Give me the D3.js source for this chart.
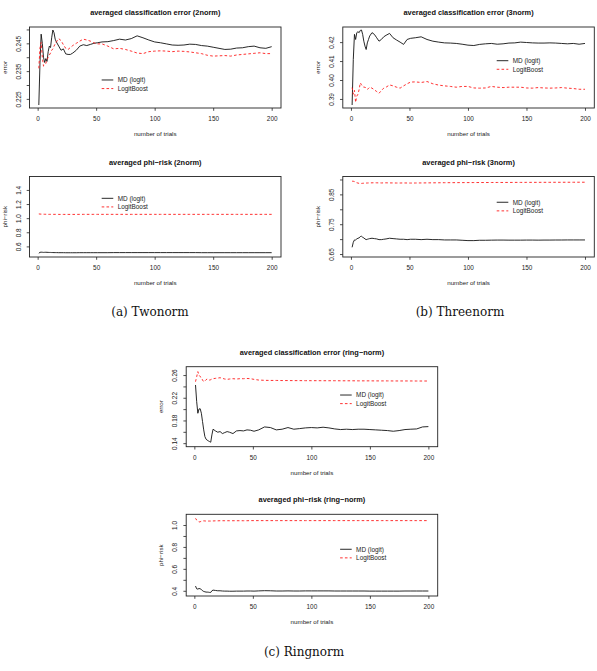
<!DOCTYPE html>
<html>
<head>
<meta charset="utf-8">
<script src="https://cdn.jsdelivr.net/npm/d3@7"></script>
<style>
  body { margin: 0; background: #fff; }
  svg { display: block; font-family: "Liberation Sans", Arial, sans-serif; }
  .chart-title { font-size: 7.4px; font-weight: bold; fill: #111; text-anchor: middle; }
  .axis-label { font-size: 6.2px; fill: #222; text-anchor: middle; }
  .axis text { font-size: 6.4px; fill: #222; }
  .axis line { stroke: #222; stroke-width: 0.8; }
  .plot-box { fill: none; stroke: #222; stroke-width: 0.9; }
  .legend text { font-size: 6.4px; fill: #222; }
  .line-md { fill: none; stroke: #111; stroke-width: 0.9; }
  .line-lb { fill: none; stroke: #ff1a1a; stroke-width: 0.9; stroke-dasharray: 2.6,2.2; }
  .caption { font-family: "DejaVu Serif", serif; font-size: 12px; fill: #111; text-anchor: middle; }
</style>
</head>
<body>
<svg id="figure"></svg>
<script>

const trials = [1, 2, 3, 4, 5, 6, 7, 8, 9, 10, 11, 12, 13, 14, 15, 16, 18, 20, 22, 24,
  26, 28, 30, 33, 36, 39, 42, 45, 48, 51, 55, 60, 65, 70, 75, 80, 85, 90, 95, 100,
  105, 110, 115, 120, 125, 130, 135, 140, 145, 150, 155, 160, 165, 170, 175, 180, 185, 190, 195, 200];

const xTicks = [0, 50, 100, 150, 200];
const seriesNames = ['MD (logit)', 'LogitBoost'];

// twonorm
const twoErrMD = [0.2228, 0.2380, 0.2483, 0.2450, 0.2400, 0.2381, 0.2395, 0.2385, 0.2420, 0.2440,
  0.2435, 0.2470, 0.2498, 0.2488, 0.2465, 0.2455, 0.2440, 0.2425, 0.2430, 0.2412,
  0.2410, 0.2410, 0.2415, 0.2425, 0.2440, 0.2445, 0.2442, 0.2446, 0.2450, 0.2452,
  0.2455, 0.2456, 0.2460, 0.2465, 0.2462, 0.2467, 0.2477, 0.2470, 0.2462, 0.2455,
  0.2452, 0.2448, 0.2444, 0.2443, 0.2444, 0.2447, 0.2446, 0.2442, 0.2440, 0.2436,
  0.2432, 0.2428, 0.2429, 0.2433, 0.2434, 0.2438, 0.2440, 0.2434, 0.2432, 0.2438];
const twoErrLB = [0.2360, 0.2434, 0.2453, 0.2400, 0.2368, 0.2372, 0.2378, 0.2390, 0.2400, 0.2408,
  0.2415, 0.2425, 0.2430, 0.2440, 0.2448, 0.2455, 0.2467, 0.2460, 0.2445, 0.2432,
  0.2428, 0.2435, 0.2442, 0.2450, 0.2458, 0.2465, 0.2462, 0.2458, 0.2452, 0.2448,
  0.2448, 0.2440, 0.2430, 0.2432, 0.2428, 0.2422, 0.2415, 0.2413, 0.2420, 0.2422,
  0.2423, 0.2422, 0.2420, 0.2422, 0.2421, 0.2419, 0.2416, 0.2413, 0.2407, 0.2404,
  0.2405, 0.2406, 0.2404, 0.2408, 0.2410, 0.2412, 0.2414, 0.2416, 0.2413, 0.2413];
const twoPhiMD = [0.503, 0.516, 0.518, 0.517, 0.515, 0.516, 0.517, 0.516, 0.515, 0.514,
  0.514, 0.513, 0.513, 0.512, 0.512, 0.512, 0.511, 0.511, 0.511, 0.510,
  0.510, 0.510, 0.510, 0.510, 0.511, 0.511, 0.511, 0.511, 0.511, 0.511,
  0.511, 0.511, 0.512, 0.512, 0.512, 0.512, 0.512, 0.512, 0.512, 0.512,
  0.512, 0.512, 0.512, 0.512, 0.512, 0.512, 0.512, 0.511, 0.511, 0.511,
  0.511, 0.511, 0.511, 0.511, 0.511, 0.511, 0.511, 0.511, 0.511, 0.511];
const twoPhiLB = [1.060, 1.058, 1.057, 1.056, 1.056, 1.055, 1.055, 1.055, 1.054, 1.054,
  1.054, 1.054, 1.054, 1.054, 1.054, 1.054, 1.053, 1.053, 1.053, 1.053,
  1.053, 1.053, 1.053, 1.053, 1.054, 1.054, 1.054, 1.054, 1.054, 1.054,
  1.054, 1.054, 1.054, 1.054, 1.054, 1.054, 1.054, 1.054, 1.054, 1.054,
  1.054, 1.054, 1.054, 1.054, 1.054, 1.054, 1.054, 1.054, 1.054, 1.054,
  1.054, 1.054, 1.054, 1.054, 1.054, 1.054, 1.054, 1.054, 1.054, 1.054];

// threenorm
const threeErrMD = [0.3868, 0.4108, 0.4241, 0.4214, 0.4250, 0.4255, 0.4250, 0.4262, 0.4264, 0.4241,
  0.4205, 0.4179, 0.4161, 0.4196, 0.4214, 0.4232, 0.4250, 0.4241, 0.4223, 0.4205,
  0.4214, 0.4228, 0.4236, 0.4246, 0.4223, 0.4211, 0.4200, 0.4188, 0.4214, 0.4220,
  0.4223, 0.4228, 0.4214, 0.4205, 0.4200, 0.4196, 0.4195, 0.4193, 0.4189, 0.4184,
  0.4182, 0.4188, 0.4191, 0.4193, 0.4189, 0.4191, 0.4195, 0.4196, 0.4200, 0.4198,
  0.4196, 0.4195, 0.4195, 0.4196, 0.4195, 0.4193, 0.4191, 0.4193, 0.4189, 0.4193];
const threeErrLB = [0.3960, 0.3925, 0.3945, 0.3882, 0.3915, 0.3925, 0.3950, 0.3985, 0.3975, 0.3966,
  0.3962, 0.3962, 0.3958, 0.3951, 0.3955, 0.3962, 0.3957, 0.3948, 0.3939, 0.3930,
  0.3944, 0.3957, 0.3962, 0.3974, 0.3969, 0.3962, 0.3957, 0.3969, 0.3980, 0.3989,
  0.3990, 0.3987, 0.3992, 0.3980, 0.3973, 0.3969, 0.3966, 0.3962, 0.3966, 0.3966,
  0.3958, 0.3957, 0.3958, 0.3966, 0.3962, 0.3960, 0.3962, 0.3962, 0.3962, 0.3958,
  0.3957, 0.3960, 0.3958, 0.3957, 0.3958, 0.3960, 0.3957, 0.3955, 0.3951, 0.3951];
const threePhiMD = [0.6725, 0.6894, 0.6972, 0.6972, 0.7006, 0.7029, 0.7040, 0.7085, 0.7096, 0.7062,
  0.7040, 0.7006, 0.6983, 0.6995, 0.7006, 0.7017, 0.7029, 0.7017, 0.7006, 0.6983,
  0.6983, 0.6995, 0.7006, 0.7029, 0.7017, 0.7006, 0.6995, 0.6995, 0.6983, 0.6995,
  0.6995, 0.6983, 0.6995, 0.6983, 0.6983, 0.6972, 0.6972, 0.6972, 0.6961, 0.6950,
  0.6950, 0.6961, 0.6961, 0.6965, 0.6968, 0.6968, 0.6965, 0.6965, 0.6965, 0.6968,
  0.6968, 0.6965, 0.6968, 0.6968, 0.6970, 0.6970, 0.6972, 0.6972, 0.6972, 0.6972];
const threePhiLB = [0.8943, 0.8940, 0.8930, 0.8905, 0.8890, 0.8880, 0.8870, 0.8864, 0.8868, 0.8872,
  0.8876, 0.8878, 0.8880, 0.8882, 0.8884, 0.8886, 0.8888, 0.8890, 0.8888, 0.8886,
  0.8884, 0.8886, 0.8888, 0.8885, 0.8884, 0.8882, 0.8882, 0.8884, 0.8882, 0.8880,
  0.8882, 0.8884, 0.8886, 0.8888, 0.8890, 0.8892, 0.8893, 0.8894, 0.8895, 0.8896,
  0.8897, 0.8898, 0.8898, 0.8899, 0.8900, 0.8900, 0.8901, 0.8902, 0.8902, 0.8903,
  0.8904, 0.8904, 0.8905, 0.8905, 0.8906, 0.8906, 0.8907, 0.8907, 0.8908, 0.8908];

// ringnorm
const ringErrMD = [0.2425, 0.2131, 0.1927, 0.2003, 0.2006, 0.1927, 0.1780, 0.1634, 0.1516, 0.1470,
  0.1453, 0.1440, 0.1428, 0.1417, 0.1546, 0.1646, 0.1616, 0.1593, 0.1604, 0.1569,
  0.1587, 0.1604, 0.1593, 0.1569, 0.1616, 0.1622, 0.1616, 0.1634, 0.1628, 0.1610,
  0.1634, 0.1686, 0.1675, 0.1634, 0.1646, 0.1675, 0.1646, 0.1657, 0.1669, 0.1675,
  0.1669, 0.1681, 0.1669, 0.1651, 0.1640, 0.1646, 0.1640, 0.1646, 0.1646, 0.1640,
  0.1634, 0.1628, 0.1622, 0.1610, 0.1622, 0.1640, 0.1646, 0.1651, 0.1686, 0.1692];
const ringErrLB = [0.2483, 0.2571, 0.2660, 0.2600, 0.2571, 0.2559, 0.2512, 0.2483, 0.2495, 0.2518,
  0.2530, 0.2518, 0.2512, 0.2518, 0.2530, 0.2536, 0.2542, 0.2547, 0.2553, 0.2542,
  0.2530, 0.2524, 0.2530, 0.2536, 0.2530, 0.2536, 0.2536, 0.2540, 0.2536, 0.2524,
  0.2512, 0.2507, 0.2505, 0.2505, 0.2503, 0.2503, 0.2502, 0.2502, 0.2501, 0.2501,
  0.2501, 0.2500, 0.2500, 0.2500, 0.2499, 0.2499, 0.2499, 0.2498, 0.2498, 0.2498,
  0.2497, 0.2497, 0.2497, 0.2496, 0.2496, 0.2496, 0.2496, 0.2495, 0.2495, 0.2495];
const ringPhiMD = [0.443, 0.418, 0.415, 0.421, 0.418, 0.412, 0.400, 0.394, 0.391, 0.388,
  0.388, 0.387, 0.385, 0.385, 0.400, 0.406, 0.403, 0.400, 0.400, 0.398,
  0.397, 0.397, 0.396, 0.396, 0.397, 0.397, 0.397, 0.398, 0.398, 0.397,
  0.399, 0.401, 0.400, 0.398, 0.398, 0.399, 0.398, 0.398, 0.399, 0.399,
  0.399, 0.399, 0.399, 0.398, 0.398, 0.398, 0.398, 0.398, 0.398, 0.397,
  0.397, 0.397, 0.397, 0.397, 0.397, 0.398, 0.398, 0.398, 0.398, 0.398];
const ringPhiLB = [1.061, 1.045, 1.035, 1.027, 1.030, 1.034, 1.036, 1.038, 1.037, 1.036,
  1.036, 1.036, 1.036, 1.036, 1.037, 1.037, 1.038, 1.038, 1.039, 1.039,
  1.039, 1.039, 1.039, 1.039, 1.039, 1.039, 1.039, 1.039, 1.040, 1.040,
  1.040, 1.040, 1.040, 1.040, 1.040, 1.040, 1.040, 1.040, 1.040, 1.040,
  1.040, 1.040, 1.040, 1.040, 1.040, 1.040, 1.040, 1.040, 1.040, 1.040,
  1.040, 1.040, 1.040, 1.040, 1.040, 1.040, 1.040, 1.040, 1.040, 1.040];

// y limits (before R's 4% padding) and tick marks / printed tick labels
const twoErrYlim = [0.2228, 0.2498];
const twoErrTicks = [0.225, 0.230, 0.235, 0.240, 0.245, 0.250];
const twoErrLabels = ['0.225', '0.235', '0.245'];
const threeErrYlim = [0.3868, 0.4264];
const threeErrTicks = [0.39, 0.40, 0.41, 0.42];
const threeErrLabels = ['0.39', '0.40', '0.41', '0.42'];
const twoPhiYlim = [0.492, 1.548];
const twoPhiTicks = [0.6, 0.8, 1.0, 1.2, 1.4];
const twoPhiLabels = ['0.6', '0.8', '1.0', '1.2', '1.4'];
const threePhiYlim = [0.65, 0.90];
const threePhiTicks = [0.65, 0.70, 0.75, 0.80, 0.85, 0.90];
const threePhiLabels = ['0.65', '0.75', '0.85'];
const ringErrYlim = [0.139, 0.2695];
const ringErrTicks = [0.14, 0.16, 0.18, 0.20, 0.22, 0.24, 0.26];
const ringErrLabels = ['0.14', '0.18', '0.22', '0.26'];
const ringPhiYlim = [0.38, 1.07];
const ringPhiTicks = [0.4, 0.5, 0.6, 0.7, 0.8, 0.9, 1.0];
const ringPhiLabels = ['0.4', '0.6', '0.8', '1.0'];


class TrialPlot {

  constructor(_config, _data) {
    this.config = {
      parentElement: _config.parentElement,
      left: _config.left,
      top: _config.top,
      width: _config.width || 251.5,
      height: _config.height || 81,
      title: _config.title,
      yLabel: _config.yLabel,
      ylim: _config.ylim,
      yTicks: _config.yTicks,
      yLabels: _config.yLabels,
      legendAt: _config.legendAt
    }
    this.data = _data;
    this.initVis();
  }

  initVis() {
    let vis = this;

    vis.xScale = d3.scaleLinear()
        .range([0, vis.config.width]);

    vis.yScale = d3.scaleLinear()
        .range([vis.config.height, 0]);

    vis.xAxis = d3.axisBottom(vis.xScale)
        .tickValues(xTicks)
        .tickSizeOuter(0)
        .tickSize(2.8)
        .tickPadding(5.6);

    // R drops labels that would overlap, the tick marks stay
    vis.yAxis = d3.axisLeft(vis.yScale)
        .tickValues(vis.config.yTicks)
        .tickSizeOuter(0)
        .tickSize(2.8)
        .tickFormat(d => vis.config.yLabels.find(s => Math.abs(+s - d) < 1e-9) || '');

    vis.chart = d3.select(vis.config.parentElement).append('g')
        .attr('transform', `translate(${vis.config.left},${vis.config.top})`);

    vis.xAxisG = vis.chart.append('g')
        .attr('class', 'axis x-axis')
        .attr('transform', `translate(0,${vis.config.height})`);

    vis.yAxisG = vis.chart.append('g')
        .attr('class', 'axis y-axis');

    vis.chart.append('text')
        .attr('class', 'chart-title')
        .attr('x', vis.config.width / 2)
        .attr('y', -14.5)
        .attr('dy', '0.35em')
        .text(vis.config.title);

    vis.chart.append('text')
        .attr('class', 'axis-label')
        .attr('x', vis.config.width / 2)
        .attr('y', vis.config.height + 26)
        .attr('dy', '0.35em')
        .text('number of trials');

    vis.chart.append('text')
        .attr('class', 'axis-label')
        .attr('transform', `translate(-25,${vis.config.height / 2}) rotate(-90)`)
        .attr('dy', '0.35em')
        .text(vis.config.yLabel);

    this.updateVis();
  }

  updateVis() {
    let vis = this;

    vis.xValue = d => d.trial;

    // R pads each axis range by 4%
    const xr = d3.extent(trials);
    const xPad = (xr[1] - xr[0]) * 0.04;
    vis.xScale.domain([xr[0] - xPad, xr[1] + xPad]);

    const yr = vis.config.ylim;
    const yPad = (yr[1] - yr[0]) * 0.04;
    vis.yScale.domain([yr[0] - yPad, yr[1] + yPad]);

    vis.line = d3.line()
        .x(d => vis.xScale(vis.xValue(d)))
        .y(d => vis.yScale(d.value));

    this.renderVis();
  }

  renderVis() {
    let vis = this;

    vis.chart.selectAll('.series')
        .data(vis.data)
      .join('path')
        .attr('class', d => 'series ' + d.cls)
        .attr('d', d => vis.line(d.values));

    vis.chart.append('rect')
        .attr('class', 'plot-box')
        .attr('width', vis.config.width)
        .attr('height', vis.config.height);

    vis.xAxisG.call(vis.xAxis);
    vis.xAxisG.select('.domain').remove();

    vis.yAxisG.call(vis.yAxis);
    vis.yAxisG.select('.domain').remove();
    vis.yAxisG.selectAll('text')
        .attr('transform', 'rotate(-90)')
        .attr('x', 0)
        .attr('y', -11)
        .attr('dy', '0.35em')
        .attr('text-anchor', 'middle');

    // legend without a box
    const lx = vis.config.legendAt[0] * vis.config.width;
    const ly = vis.config.legendAt[1] * vis.config.height;
    const legend = vis.chart.append('g')
        .attr('class', 'legend')
        .attr('transform', `translate(${lx},${ly})`);

    const item = legend.selectAll('g')
        .data(vis.data)
      .join('g')
        .attr('transform', (d, i) => `translate(0,${i * 8.6})`);

    item.append('line')
        .attr('class', d => d.cls)
        .attr('x1', 0)
        .attr('x2', 11.6);

    item.append('text')
        .attr('x', 16)
        .attr('dy', '0.35em')
        .text(d => d.name);
  }

}


function makeSeries(md, lb) {
  return [
    { name: seriesNames[0], cls: 'line-md', values: trials.map((t, i) => ({ trial: t, value: md[i] })) },
    { name: seriesNames[1], cls: 'line-lb', values: trials.map((t, i) => ({ trial: t, value: lb[i] })) }
  ];
}

const svg = d3.select('#figure')
    .attr('width', 597)
    .attr('height', 671);

new TrialPlot({ parentElement: '#figure', left: 29.5, top: 27, height: 81,
  title: 'averaged classification error (2norm)', yLabel: 'error',
  ylim: twoErrYlim, yTicks: twoErrTicks, yLabels: twoErrLabels, legendAt: [0.287, 0.654] },
  makeSeries(twoErrMD, twoErrLB));

new TrialPlot({ parentElement: '#figure', left: 342.8, top: 27, height: 81,
  title: 'averaged classification error (3norm)', yLabel: 'error',
  ylim: threeErrYlim, yTicks: threeErrTicks, yLabels: threeErrLabels, legendAt: [0.612, 0.416] },
  makeSeries(threeErrMD, threeErrLB));

new TrialPlot({ parentElement: '#figure', left: 29.5, top: 176.5, height: 80.5,
  title: 'averaged phi\u2212risk (2norm)', yLabel: 'phi\u2212risk',
  ylim: twoPhiYlim, yTicks: twoPhiTicks, yLabels: twoPhiLabels, legendAt: [0.287, 0.271] },
  makeSeries(twoPhiMD, twoPhiLB));

new TrialPlot({ parentElement: '#figure', left: 342.8, top: 176.5, height: 80.5,
  title: 'averaged phi\u2212risk (3norm)', yLabel: 'phi\u2212risk',
  ylim: threePhiYlim, yTicks: threePhiTicks, yLabels: threePhiLabels, legendAt: [0.612, 0.32] },
  makeSeries(threePhiMD, threePhiLB));

new TrialPlot({ parentElement: '#figure', left: 186.2, top: 366.7, height: 80,
  title: 'averaged classification error (ring\u2212norm)', yLabel: 'error',
  ylim: ringErrYlim, yTicks: ringErrTicks, yLabels: ringErrLabels, legendAt: [0.612, 0.354] },
  makeSeries(ringErrMD, ringErrLB));

new TrialPlot({ parentElement: '#figure', left: 186.2, top: 514.3, height: 81.7,
  title: 'averaged phi\u2212risk (ring\u2212norm)', yLabel: 'phi\u2212risk',
  ylim: ringPhiYlim, yTicks: ringPhiTicks, yLabels: ringPhiLabels, legendAt: [0.612, 0.428] },
  makeSeries(ringPhiMD, ringPhiLB));

// sub-figure captions
svg.selectAll('.caption')
    .data([
      { text: '(a) Twonorm', x: 150, y: 312 },
      { text: '(b) Threenorm', x: 460, y: 312 },
      { text: '(c) Ringnorm', x: 304, y: 652 }
    ])
  .join('text')
    .attr('class', 'caption')
    .attr('x', d => d.x)
    .attr('y', d => d.y)
    .attr('dy', '0.35em')
    .text(d => d.text);

</script>
</body>
</html>
